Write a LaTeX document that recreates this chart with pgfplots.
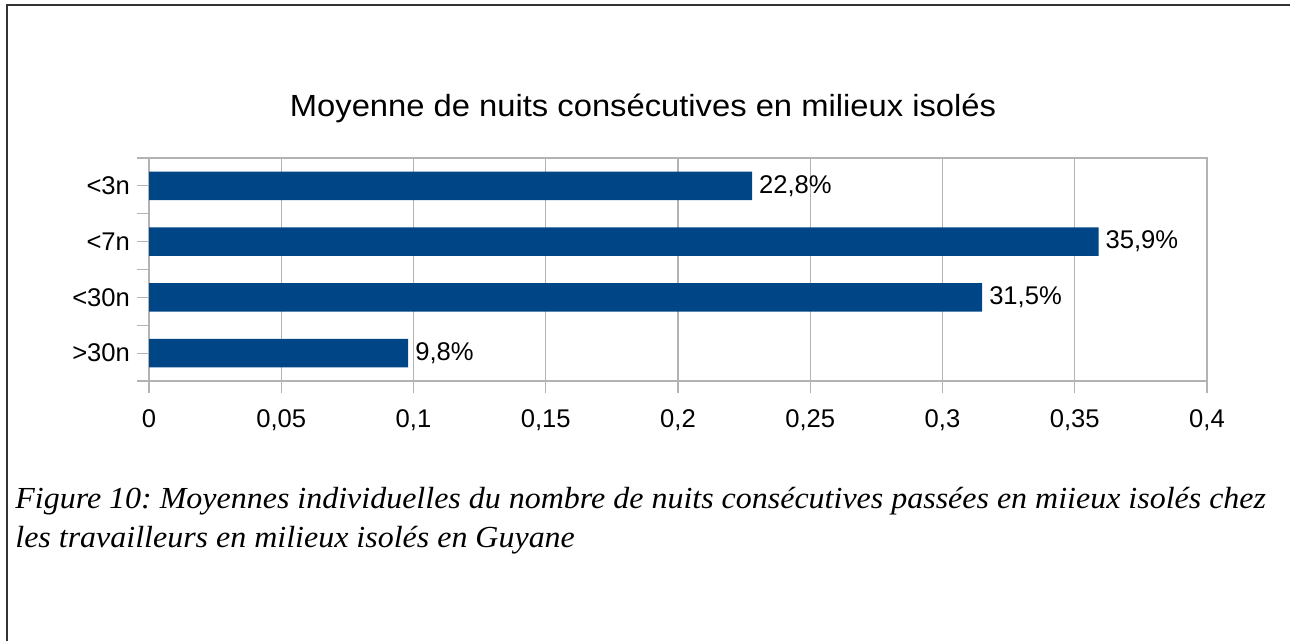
\documentclass[border=0pt]{standalone}
\usepackage{fontspec}
\setmainfont{Liberation Sans}
\newfontfamily\capfont{Liberation Serif}
\usepackage{graphicx}
\usepackage{pgfplots}
\pgfplotsset{compat=1.18}
\frenchspacing

\definecolor{barblue}{HTML}{004586}
\definecolor{gridgray}{HTML}{B3B3B3}
\definecolor{framegray}{HTML}{333333}

\begin{document}
\begin{tikzpicture}
\path[use as bounding box] (0,0) rectangle (645pt,-320.5pt);

% page frame (top and left only)
\draw[framegray, line width=1pt] (3.5pt,-320.5pt) -- (3.5pt,-2.5pt) -- (645pt,-2.5pt);

% chart title
\node[anchor=base, inner sep=0pt] at (321.5pt,-58.5pt)
  {\scalebox{1.07}[1]{\fontsize{15.3}{18}\selectfont Moyenne de nuits consécutives en milieux isolés}};

\begin{axis}[
    at={(74.5pt,-190.5pt)}, anchor=south west,
    scale only axis,
    width=529pt, height=111.5pt,
    xbar, bar width=14.25pt,
    xmin=0, xmax=0.4,
    ymin=-0.5, ymax=3.5,
    xtick={0,0.05,0.1,0.15,0.2,0.25,0.3,0.35,0.4},
    ytick={-0.5,0.5,1.5,2.5,3.5},
    yticklabels={},
    extra y ticks={0,1,2,3},
    extra y tick labels={>30n,<30n,<7n,<3n},
    extra y tick style={draw=none},
    xmajorgrids=true,
    grid style={gridgray, line width=0.6pt},
    axis line style={gridgray, line width=0.6pt},
    tick style={gridgray, line width=0.6pt},
    tick align=outside,
    major tick length=6pt,
    xtick pos=bottom, ytick pos=left,
    tick label style={font=\fontsize{12.8}{15}\selectfont, text=black},
    xticklabel style={yshift=-5pt},
    /pgf/number format/.cd, use comma, fixed, precision=2, assume math mode=true,
    /pgfplots/.cd,
    point meta=explicit symbolic,
    nodes near coords,
    nodes near coords style={font=\fontsize{12.8}{15}\selectfont, anchor=west, text=black},
]
\addplot[fill=barblue, draw=none] coordinates {
    (0.228,3) [22,8\%]
    (0.359,2) [35,9\%]
    (0.315,1) [31,5\%]
    (0.098,0) [9,8\%]
};
\end{axis}

% figure caption
\node[anchor=base west, inner sep=0pt] at (7.5pt,-254pt)
  {\scalebox{1.045}[1]{\capfont\itshape\fontsize{15.3}{18}\selectfont Figure 10: Moyennes individuelles du nombre de nuits consécutives passées en miieux isolés chez}};
\node[anchor=base west, inner sep=0pt] at (7.5pt,-273.5pt)
  {\scalebox{1.045}[1]{\capfont\itshape\fontsize{15.3}{18}\selectfont les travailleurs en milieux isolés en Guyane}};
\end{tikzpicture}
\end{document}
